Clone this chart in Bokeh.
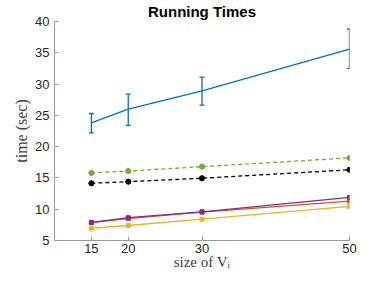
from bokeh.plotting import figure
from bokeh.models import ColumnDataSource, Whisker, TeeHead, FixedTicker, Range1d
from bokeh.embed import file_html
from bokeh.resources import INLINE

sizes = [15, 20, 30, 50]
blue_mean = [23.8, 26.0, 28.9, 35.6]
blue_low = [22.2, 23.4, 26.65, 32.5]
blue_high = [25.3, 28.4, 31.1, 38.8]
green = [15.8, 16.1, 16.8, 18.2]
black = [14.15, 14.4, 14.95, 16.3]
purple = [7.9, 8.65, 9.57, 11.9]
orange = [7.85, 8.5, 9.55, 11.3]
yellow = [6.96, 7.4, 8.4, 10.45]
y_ticks = [5, 10, 15, 20, 25, 30, 35, 40]

p = figure(width=360, height=272, output_backend="svg", toolbar_location=None,
           x_range=Range1d(10, 50), y_range=Range1d(5, 40),
           min_border_left=54, min_border_right=11, min_border_top=21, min_border_bottom=31)
p.title.text = "Running Times"
p.title.align = "center"
p.title.vertical_align = "top"
p.title.text_font = "Liberation Sans"
p.title.text_font_size = "15px"
p.title.text_font_style = "bold"
p.title.text_color = "#000000"
p.title.standoff = 0
p.outline_line_color = None
p.xgrid.visible = False
p.ygrid.visible = False

for ax in (p.xaxis, p.yaxis):
    ax.axis_line_color = "#9a9a9a"
    ax.major_tick_line_color = "#9a9a9a"
    ax.major_tick_in = 4
    ax.major_tick_out = 0
    ax.minor_tick_line_color = None
    ax.major_label_text_font = "Liberation Sans"
    ax.major_label_text_font_size = "13px"
    ax.major_label_text_color = "#262626"
    ax.axis_label_text_font = "Liberation Serif"
    ax.axis_label_text_font_size = "16px"
    ax.axis_label_text_font_style = "normal"
    ax.axis_label_text_color = "#404040"

p.xaxis.major_label_standoff = 3
p.xaxis.axis_label_standoff = -2
p.xaxis.axis_label_text_font_size = "15px"
p.yaxis.major_label_standoff = 5
p.yaxis.axis_label_standoff = 2

p.xaxis.ticker = FixedTicker(ticks=sizes)
p.yaxis.ticker = FixedTicker(ticks=y_ticks)
p.xaxis.axis_label = "size of Vᵢ"
p.yaxis.axis_label = "time (sec)"

# lower lines
for vals, col in ((yellow, "#EDB120"), (orange, "#D95319"), (purple, "#7E2F8E")):
    p.line(sizes, vals, line_color=col, line_width=1.3)
    p.scatter(sizes, vals, marker="square", size=4, fill_color=col, line_color=col)

for vals, col in ((black, "#000000"), (green, "#77AC30")):
    p.line(sizes, vals, line_color=col, line_width=1.3, line_dash="4 3")
    p.scatter(sizes, vals, marker="circle", size=5, fill_color=col, line_color=col)
    p.scatter(sizes, vals, marker="asterisk", size=6, line_color=col, line_width=1)

src = ColumnDataSource(dict(x=sizes, y=blue_mean, lo=blue_low, hi=blue_high))
p.line("x", "y", source=src, line_color="#0072BD", line_width=1.3)
w = Whisker(base="x", upper="hi", lower="lo", source=src,
            line_color="#0072BD", line_width=1.3,
            upper_head=TeeHead(size=5, line_color="#0072BD", line_width=1.3),
            lower_head=TeeHead(size=5, line_color="#0072BD", line_width=1.3))
p.add_layout(w)

open("out.html", "w").write(file_html(p, INLINE))
